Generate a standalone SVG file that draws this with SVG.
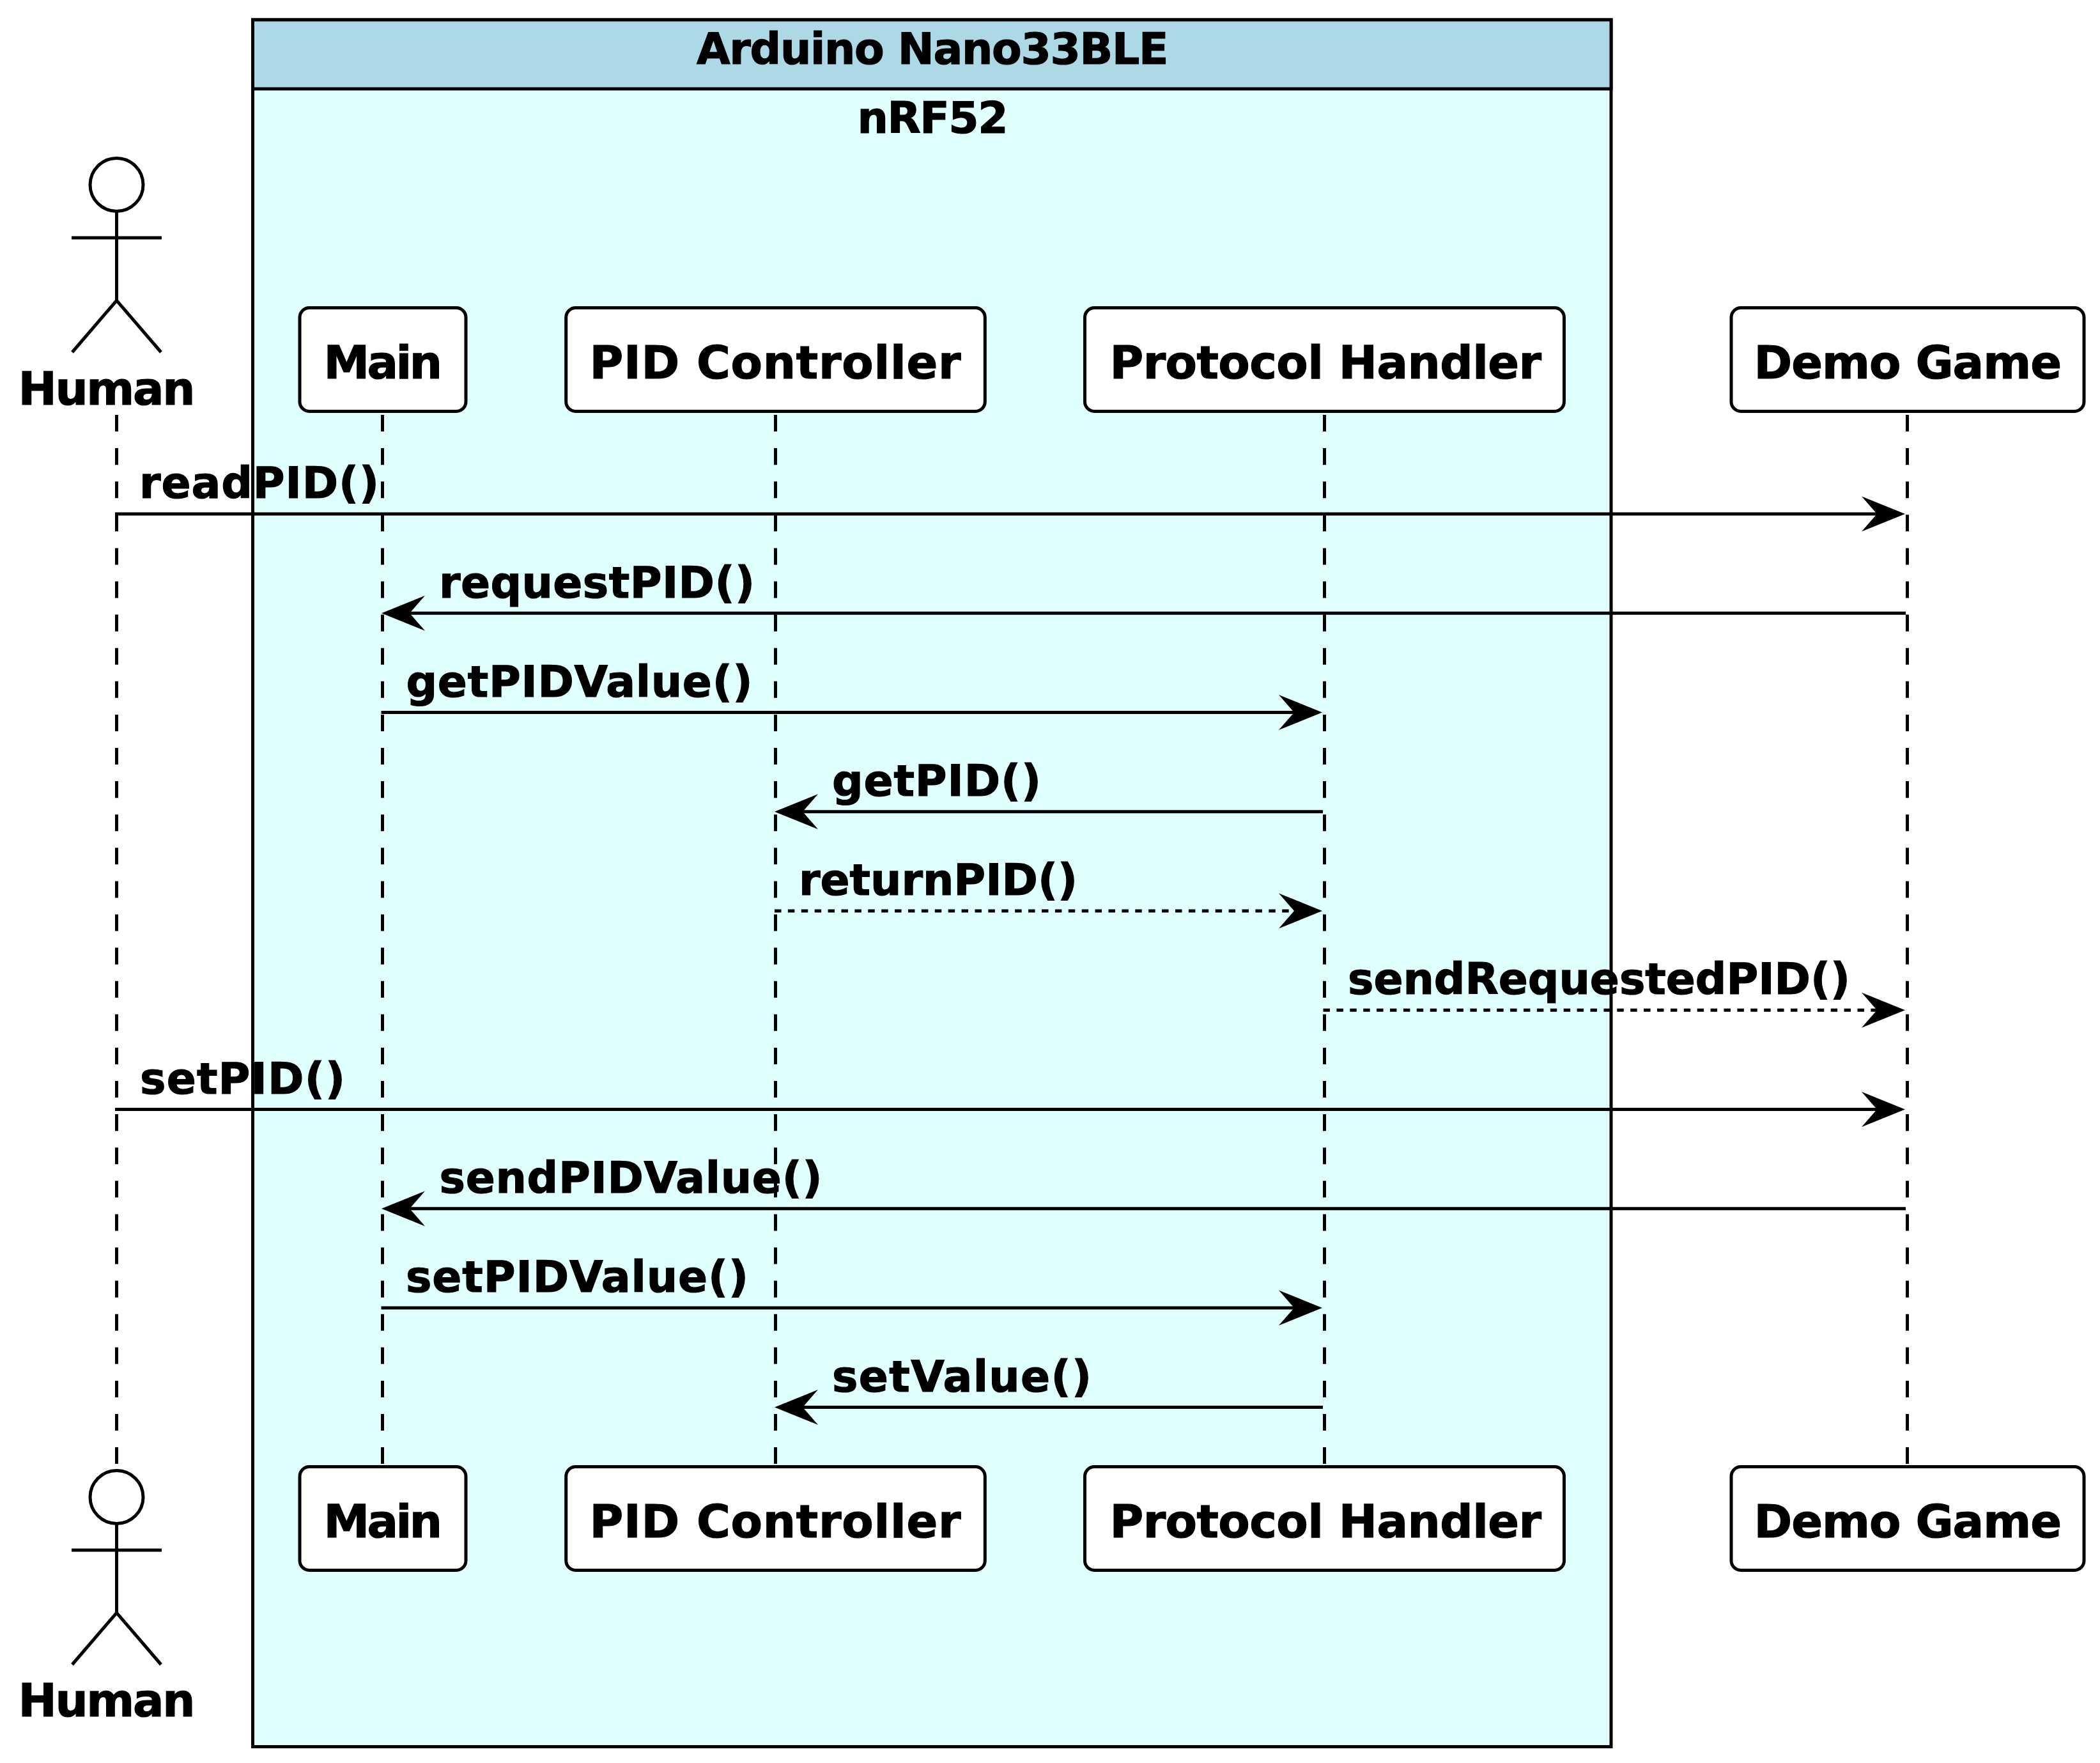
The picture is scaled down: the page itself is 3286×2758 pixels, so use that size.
<svg xmlns="http://www.w3.org/2000/svg" width="3286" height="2758" viewBox="0 0 3286 2758">
<style>
text{font-family:"DejaVu Sans",sans-serif;font-weight:bold;font-size:68px;fill:#000;stroke:#000;stroke-width:1.2}
.name{font-size:72px}
.box{fill:#fff;stroke:#000;stroke-width:5}
.life{stroke:#000;stroke-width:5;stroke-dasharray:26.05 26.05;fill:none}
.msg{stroke:#000;stroke-width:5;fill:none;marker-end:url(#arrow)}
.dot{stroke-dasharray:10.45 10.45}
.actor{fill:none;stroke:#000;stroke-width:5}
.head{fill:#fff;stroke:#000;stroke-width:5}
</style>
<defs>
<marker id="arrow" markerUnits="userSpaceOnUse" markerWidth="72" markerHeight="60" viewBox="0 0 72 60" refX="38" refY="30" orient="auto"><polygon points="0,2.5 68,30 0,57.5 24,30" fill="#000"/></marker>
</defs>
<rect width="3286" height="2758" fill="#fff"/>
<g id="box-arduino">
<rect x="395.5" y="31" width="2125.5" height="2701.5" fill="#E0FFFF" stroke="#000" stroke-width="5"/>
<rect x="395.5" y="31" width="2125.5" height="108" fill="#ADD8E6" stroke="#000" stroke-width="5"/>
<text x="1090" y="99.5" textLength="738.5">Arduino Nano33BLE</text>
<text x="1341.5" y="207.5" textLength="236">nRF52</text>
</g>
<g id="lifelines">
<path class="life" d="M182.5 649V2290"/>
<path class="life" d="M598.5 649V2290"/>
<path class="life" d="M1213.5 649V2290"/>
<path class="life" d="M2072.5 649V2290"/>
<path class="life" d="M2984.5 649V2290"/>
</g>
<g id="node-human-top">
<circle class="head" cx="182.5" cy="289" r="41.5"/>
<path class="actor" d="M182.5 331V470M112 372H253M113 551L182.5 470L252 551"/>
<text class="name" x="28.5" y="633" textLength="277">Human</text>
</g>
<g id="node-human-bottom">
<circle class="head" cx="182.5" cy="2342" r="41.5"/>
<path class="actor" d="M182.5 2384V2523M112 2425H253M113 2604L182.5 2523L252 2604"/>
<text class="name" x="28.5" y="2685" textLength="277">Human</text>
</g>
<g id="node-main-top"><rect class="box" x="469" y="481.5" width="260" height="162" rx="15"/><text class="name" x="506.5" y="592" textLength="185.5">Main</text></g>
<g id="node-pid-top"><rect class="box" x="885.7" y="481.5" width="655.6" height="162" rx="15"/><text class="name" x="922.5" y="592" textLength="581">PID Controller</text></g>
<g id="node-protocol-top"><rect class="box" x="1697.5" y="481.5" width="750" height="162" rx="15"/><text class="name" x="1736.5" y="592" textLength="675.5">Protocol Handler</text></g>
<g id="node-demo-top"><rect class="box" x="2709" y="481.5" width="552" height="162" rx="15"/><text class="name" x="2744.5" y="592" textLength="481.5">Demo Game</text></g>
<g id="node-main-bottom"><rect class="box" x="469" y="2294.5" width="260" height="162" rx="15"/><text class="name" x="506.5" y="2404.5" textLength="185.5">Main</text></g>
<g id="node-pid-bottom"><rect class="box" x="885.7" y="2294.5" width="655.6" height="162" rx="15"/><text class="name" x="922.5" y="2404.5" textLength="581">PID Controller</text></g>
<g id="node-protocol-bottom"><rect class="box" x="1697.5" y="2294.5" width="750" height="162" rx="15"/><text class="name" x="1736.5" y="2404.5" textLength="675.5">Protocol Handler</text></g>
<g id="node-demo-bottom"><rect class="box" x="2709" y="2294.5" width="552" height="162" rx="15"/><text class="name" x="2744.5" y="2404.5" textLength="481.5">Demo Game</text></g>
<g id="connectors">
<path class="msg" d="M180 804H2951"/>
<path class="msg" d="M2982 959.2H627"/>
<path class="msg" d="M596.5 1114.5H2039"/>
<path class="msg" d="M2070 1269.8H1242"/>
<path class="msg dot" d="M1212 1425H2039"/>
<path class="msg dot" d="M2070.5 1580.3H2951"/>
<path class="msg" d="M180 1735.6H2951"/>
<path class="msg" d="M2982 1890.8H627"/>
<path class="msg" d="M596.5 2046H2039"/>
<path class="msg" d="M2070 2201.4H1242"/>
</g>
<g id="labels">
<text x="218" y="779" textLength="375">readPID()</text>
<text x="687" y="934.5" textLength="494">requestPID()</text>
<text x="635.5" y="1089.5" textLength="542">getPIDValue()</text>
<text x="1302" y="1245" textLength="327">getPID()</text>
<text x="1250" y="1400" textLength="436">returnPID()</text>
<text x="2109" y="1555" textLength="786">sendRequestedPID()</text>
<text x="219" y="1711" textLength="321">setPID()</text>
<text x="687.5" y="1866" textLength="599">sendPIDValue()</text>
<text x="635" y="2021" textLength="536">setPIDValue()</text>
<text x="1302" y="2176.5" textLength="406">setValue()</text>
</g>
</svg>
